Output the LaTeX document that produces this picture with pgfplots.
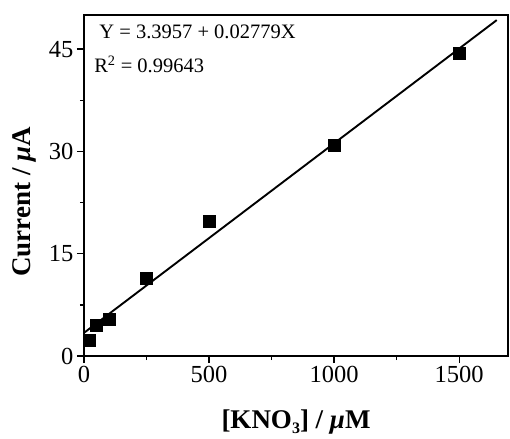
\documentclass[border=0pt]{standalone}
\usepackage{fontspec}
\setmainfont{Liberation Serif}
\usepackage{pgfplots}
\pgfplotsset{compat=1.18}
\usetikzlibrary{calc}

\begin{document}
\begin{tikzpicture}
\begin{axis}[
  scale only axis,
  width=424pt, height=341pt,
  xmin=0, xmax=1695, ymin=0, ymax=50,
  xtick={0,500,1000,1500}, ytick={0,15,30,45},
  minor x tick num=1, minor y tick num=1,
  tick pos=left, tick align=outside,
  major tick length=7pt, minor tick length=4pt,
  every tick/.style={line width=1.4pt, black},
  axis line style={line width=2pt},
  /pgf/number format/1000 sep={},
  /pgf/number format/assume math mode=true,
  tick label style={font=\fontsize{24.5}{24.5}\selectfont},
  xlabel={\textbf{[KNO\raisebox{-0.45ex}{\fontsize{16}{16}\selectfont 3}] / \textit{μ}M}},
  ylabel={\textbf{Current / \textit{μ}A}},
  label style={font=\fontsize{27}{27}\selectfont},
  xlabel style={at={(axis description cs:0.5,0)}, anchor=base, yshift=-72pt},
  ylabel style={at={(axis description cs:-0.1415,0.452)}, anchor=center},
  clip=false,
]
% linear fit Y = 3.3957 + 0.02779X
\addplot[black, line width=1.9pt] coordinates {(0,3.3957) (1650,49.25)};
\addplot[only marks, mark=square*, mark size=6pt, black] coordinates {
  (20,2.3) (50,4.5) (100,5.4) (250,11.4) (500,19.8) (1000,30.9) (1500,44.4)};
\node[anchor=base west, font=\fontsize{20.5}{20.5}\selectfont] at (rel axis cs:0.028,0.93) {Y = 3.3957 + 0.02779X};
\node[anchor=base west, font=\fontsize{20.5}{20.5}\selectfont] at (rel axis cs:0.016,0.83) {R\textsuperscript{2} = 0.99643};
\coordinate (bl) at (rel axis cs:0,0);
\end{axis}
\pgfresetboundingbox
\path ($(bl)+(-84pt,-82pt)$) rectangle ++(510pt,438pt);
\end{tikzpicture}
\end{document}
